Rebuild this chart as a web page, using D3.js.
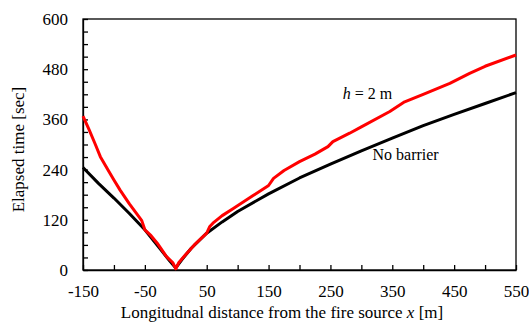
<!DOCTYPE html>
<html>
<head>
<meta charset="utf-8">
<script src="https://cdn.jsdelivr.net/npm/d3@7"></script>
<style>
  body { margin: 0; background: #fff; }
</style>
</head>
<body>
<figure id="chart" style="margin:0"></figure>
<script>
// distance x [m], elapsed time [sec]
const noBarrierX = [-150, -125, -100, -75, -50, -25, -10, 0, 10, 25, 50, 75, 100, 150, 200, 250, 300, 350, 400, 450, 500, 550];
const noBarrierT = [245, 207, 172, 135, 96, 50, 22, 5, 25, 52, 88, 115, 140, 182, 220, 253, 285, 315, 345, 372, 398, 424];

const barrierX = [-150, -140, -130, -122, -110, -100, -90, -75, -60, -55, -50, -40, -30, -15, -5, 0, 5, 15, 30, 50, 55, 60, 75, 93, 125, 147, 150, 158, 175, 200, 225, 246, 254, 281, 300, 346, 370, 400, 443, 475, 500, 550];
const barrierT = [368, 335, 300, 271, 240, 215, 191, 158, 128, 118, 96, 82, 64, 32, 18, 3, 18, 35, 60, 88, 104, 112, 130, 147, 178, 199, 202, 219, 238, 259, 277, 295, 307, 327, 342, 379, 402, 420, 446, 470, 487, 514];

const xTickLabels = [-150, -50, 50, 150, 250, 350, 450, 550];
const yTickLabels = [0, 120, 240, 360, 480, 600];

const W = 529, H = 323;
const margin = { left: 83, top: 19, right: 13, bottom: 53 };
const width = W - margin.left - margin.right;
const height = H - margin.top - margin.bottom;
const FONT = "'Liberation Serif', 'Times New Roman', serif";

const svg = d3.select("#chart")
  .append("svg")
  .attr("width", W)
  .attr("height", H)
  .style("font-family", FONT)
  .append("g")
  .attr("transform", "translate(" + margin.left + "," + margin.top + ")");

const x = d3.scaleLinear().domain([-150, 550]).range([0, width]);
const y = d3.scaleLinear().domain([0, 600]).range([height, 0]);

// x axis: ticks every 50 inward, labels every 100
const xAxis = svg.append("g")
  .call(d3.axisBottom(x).tickValues(d3.range(-150, 551, 50)).tickSize(-5).tickSizeOuter(0)
    .tickFormat(d => xTickLabels.includes(d) ? d : ""))
  .attr("transform", "translate(0," + height + ")");
xAxis.selectAll("text").attr("y", 15).attr("dy", "0.71em")
  .text(d => xTickLabels.includes(d) ? String(d) : "");

// y axis: ticks every 30 inward, labels every 120
const yAxis = svg.append("g")
  .call(d3.axisLeft(y).tickValues(d3.range(0, 601, 30)).tickSize(-5).tickSizeOuter(0)
    .tickFormat(d => yTickLabels.includes(d) ? d : ""));
yAxis.selectAll("text").attr("x", -15);

svg.selectAll("g").attr("font-family", null).attr("font-size", null);
svg.selectAll(".tick text").style("font-family", FONT).style("font-size", "17px").attr("fill", "#000");
svg.selectAll(".domain").attr("stroke", "#000").attr("stroke-width", 1.3);
svg.selectAll(".tick line").attr("stroke", "#000").attr("stroke-width", 1.3);

// frame top and right
svg.append("rect")
  .attr("x", 0).attr("y", 0)
  .attr("width", width).attr("height", height)
  .attr("fill", "none").attr("stroke", "#000").attr("stroke-width", 1.3);

const line = d3.line().x(d => x(d[0])).y(d => y(d[1]));

svg.append("path")
  .datum(d3.zip(noBarrierX, noBarrierT))
  .attr("fill", "none").attr("stroke", "#000").attr("stroke-width", 3)
  .attr("stroke-linejoin", "round")
  .attr("d", line);

svg.append("path")
  .datum(d3.zip(barrierX, barrierT))
  .attr("fill", "none").attr("stroke", "#ff0000").attr("stroke-width", 3)
  .attr("stroke-linejoin", "round")
  .attr("d", line);

// series labels
const hLabel = svg.append("text")
  .attr("x", x(270)).attr("y", y(409))
  .style("font-family", FONT)
  .style("font-size", "16px");
hLabel.append("tspan").style("font-style", "italic").text("h");
hLabel.append("tspan").text(" = 2 m");

svg.append("text")
  .attr("x", x(318)).attr("y", y(263))
  .style("font-family", FONT)
  .style("font-size", "16px")
  .text("No barrier");

// axis titles
const xTitle = svg.append("text")
  .attr("x", 282 - margin.left)
  .attr("y", height + 48)
  .attr("text-anchor", "middle")
  .style("font-family", FONT)
  .style("font-size", "17px");
xTitle.append("tspan").text("Longitudnal distance from the fire source ");
xTitle.append("tspan").style("font-style", "italic").text("x");
xTitle.append("tspan").text(" [m]");

svg.append("text")
  .attr("transform", "rotate(-90)")
  .attr("x", -130.5)
  .attr("y", -59)
  .attr("text-anchor", "middle")
  .style("font-family", FONT)
  .style("font-size", "17px")
  .text("Elapsed time [sec]");
</script>
</body>
</html>
